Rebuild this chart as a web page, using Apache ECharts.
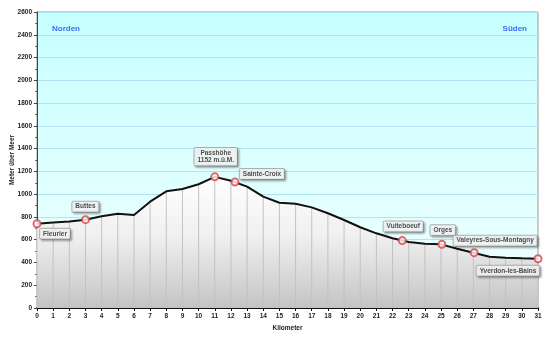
<!DOCTYPE html>
<html>
<head>
<meta charset="utf-8">
<script src="https://cdn.jsdelivr.net/npm/echarts@6/dist/echarts.min.js"></script>
<style>
  html, body { margin: 0; padding: 0; background: #fff; }
  #chart { width: 550px; height: 341px; }
</style>
</head>
<body>
<div id="chart"></div>
<script>
// Elevation profile Fleurier – Yverdon-les-Bains (metres above sea level per kilometre)
const profileKm = [0, 1, 2, 3, 4, 5, 6, 7, 8, 9, 10, 11, 12, 13, 14, 15, 16, 17, 18, 19, 20, 21, 22, 23, 24, 25, 26, 27, 28, 29, 30, 31];
const profileElev = [740, 750, 760, 776, 805, 828, 817, 934, 1025, 1045, 1087, 1152, 1118, 1066, 978, 925, 916, 884, 832, 773, 709, 656, 612, 580, 565, 559, 521, 486, 451, 442, 436, 433];

// Places along the route
const stationNames = ['Fleurier', 'Buttes', 'Passhöhe', 'Sainte-Croix', 'Vuiteboeuf', 'Orges', 'Valeyres-Sous-Montagny', 'Yverdon-les-Bains'];
const stationKm = [0, 3, 11, 12.25, 22.6, 25.05, 27.05, 31];
const stationElev = [740, 776, 1152, 1106, 592, 559, 486, 433];

const xTickLabels = Array.from({length: 32}, (_, i) => String(i));
const yTickLabels = ['0', '200', '400', '600', '800', '1000', '1200', '1400', '1600', '1800', '2000', '2200', '2400', '2600'];

// label box offsets relative to each place marker
const labelOffsets = [[18, 10], [0, -13], [1, -20], [27, -8], [1, -14], [1, -14], [21, -12], [-30, 12]];

const profile = profileKm.map((k, i) => [k, profileElev[i]]);
const stations = stationNames.map((n, i) => ({
  value: [stationKm[i], stationElev[i]],
  name: n,
  label: { offset: labelOffsets[i] }
}));

const chart = echarts.init(document.getElementById('chart'), null, { renderer: 'canvas' });

const tickFont = { fontFamily: 'Liberation Sans, Arial, sans-serif', fontSize: 6.5, fontWeight: 'bold', color: '#222' };

chart.setOption({
  animation: false,
  grid: {
    left: 37, right: 12, top: 12, bottom: 33,
    outerBoundsMode: 'none',
    containLabel: false,
    show: true,
    borderColor: '#9a9a9a',
    borderWidth: 1,
    backgroundColor: new echarts.graphic.LinearGradient(0, 0, 0, 1, [
      { offset: 0, color: '#c6ffff' },
      { offset: 1, color: '#f2ffff' }
    ])
  },
  xAxis: {
    type: 'value', min: 0, max: 31, interval: 1,
    name: 'Kilometer', nameLocation: 'middle', nameGap: 17,
    nameMoveOverlap: false,
    nameTextStyle: Object.assign({}, tickFont, { fontSize: 6.5 }),
    axisLine: { show: true, onZero: false, lineStyle: { color: '#111', width: 2 } },
    axisTick: { show: true, length: 3, lineStyle: { color: '#111' } },
    axisLabel: Object.assign({}, tickFont, { margin: 5, formatter: v => xTickLabels[v] }),
    splitLine: { show: false }
  },
  yAxis: {
    type: 'value', min: 0, max: 2600, interval: 200,
    name: 'Meter über Meer', nameLocation: 'middle', nameGap: 21, nameRotate: 90,
    nameMoveOverlap: false,
    nameTextStyle: Object.assign({}, tickFont, { fontSize: 6.5 }),
    axisLine: { show: true, lineStyle: { color: '#444', width: 1 } },
    axisTick: { show: true, length: 3, lineStyle: { color: '#444' } },
    minorTick: { show: true, splitNumber: 2, length: 2, lineStyle: { color: '#666' } },
    axisLabel: Object.assign({}, tickFont, { margin: 5, formatter: v => yTickLabels[v / 200] }),
    splitLine: { show: true, lineStyle: { color: '#b3e3f3', width: 1 } }
  },
  series: [
    {
      // ground fill under the profile
      type: 'line', data: profile, symbol: 'none', z: 1,
      lineStyle: { width: 0 },
      areaStyle: {
        opacity: 1,
        color: new echarts.graphic.LinearGradient(0, 0, 0, 1, [
          { offset: 0, color: '#ffffff' },
          { offset: 0.45, color: '#f0f0f0' },
          { offset: 1, color: '#c4c4c4' }
        ])
      },
      silent: true
    },
    {
      // vertical drop lines at each kilometre
      type: 'custom', z: 2, silent: true,
      data: profile,
      renderItem: (params, api) => {
        const top = api.coord([api.value(0), api.value(1)]);
        const bottom = api.coord([api.value(0), 0]);
        return {
          type: 'line',
          shape: { x1: top[0], y1: top[1], x2: bottom[0], y2: bottom[1] },
          style: { stroke: '#c2c2c2', lineWidth: 1 }
        };
      }
    },
    {
      type: 'line', data: profile, symbol: 'none', z: 3,
      lineStyle: { color: '#111', width: 2 }
    },
    {
      type: 'scatter', data: stations, z: 4,
      symbol: 'circle', symbolSize: 7,
      itemStyle: { color: '#ffffff', borderColor: '#d9434a', borderWidth: 2 },
      label: {
        show: true,
        position: 'inside',
        formatter: p => p.dataIndex === 2
          ? p.name + '\n' + p.value[1] + ' m.ü.M.'
          : p.name,
        fontFamily: 'Liberation Sans, Arial, sans-serif',
        fontSize: 6.5, fontWeight: 'bold', color: '#222',
        lineHeight: 7.5,
        align: 'center',
        backgroundColor: '#ffffff',
        borderColor: '#a0a0a0', borderWidth: 1, borderRadius: 1,
        padding: [1.5, 3, 1, 3],
        shadowColor: 'rgba(0,0,0,0.3)', shadowBlur: 2, shadowOffsetX: 1.5, shadowOffsetY: 1.5
      }
    }
  ],
  graphic: [
    {
      type: 'text', left: 52, top: 25,
      style: { text: 'Norden', font: 'bold 8px "Liberation Sans", Arial, sans-serif', fill: '#3d6cf5' }
    },
    {
      type: 'text', right: 23, top: 25,
      style: { text: 'Süden', font: 'bold 8px "Liberation Sans", Arial, sans-serif', fill: '#3d6cf5' }
    }
  ]
});
</script>
</body>
</html>
